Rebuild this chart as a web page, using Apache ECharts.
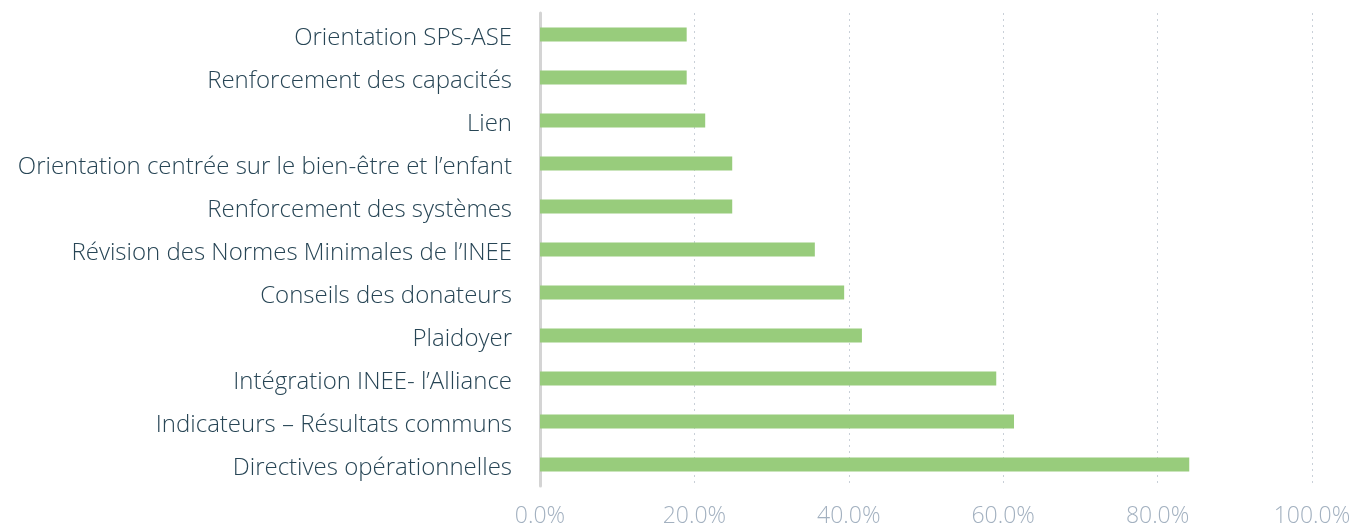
<!DOCTYPE html>
<html>
<head>
<meta charset="utf-8">
<script src="https://cdn.jsdelivr.net/npm/echarts@6/dist/echarts.min.js"></script>
<style>
  html, body { margin: 0; padding: 0; background: #fff; }
  #chart { width: 1358px; height: 528px; }
</style>
</head>
<body>
<div id="chart"></div>
<script>
// categories listed bottom -> top (category axis starts at the bottom)
var categories = [
  'Directives opérationnelles',
  'Indicateurs – Résultats communs',
  'Intégration INEE- l’Alliance',
  'Plaidoyer',
  'Conseils des donateurs',
  'Révision des Normes Minimales de l’INEE',
  'Renforcement des systèmes',
  'Orientation centrée sur le bien-être et l’enfant',
  'Lien',
  'Renforcement des capacités',
  'Orientation SPS-ASE'
];
var values = [84.1, 61.4, 59.1, 41.7, 39.4, 35.6, 24.9, 24.9, 21.4, 19.0, 19.0];
var tickValues = [0, 20, 40, 60, 80, 100];

var chart = echarts.init(document.getElementById('chart'));
var option = {
  animation: false,
  grid: { left: 540, right: 46, top: 13, bottom: 40, containLabel: false },
  xAxis: {
    type: 'value',
    min: 0,
    max: 100,
    interval: 20,
    axisLine: { show: false },
    axisTick: { show: false },
    axisLabel: {
      color: '#a3b1c0',
      fontFamily: 'Open Sans',
      fontWeight: 300,
      fontSize: 23,
      margin: 19,
      formatter: function (v) { return tickValues.indexOf(v) >= 0 ? v.toFixed(1) + '%' : ''; }
    },
    splitLine: { show: true, lineStyle: { color: '#c9d0d8', type: [2, 4], width: 1 } }
  },
  yAxis: {
    type: 'category',
    data: categories,
    axisLine: { show: true, lineStyle: { color: '#d4d4d4', width: 3 } },
    axisTick: { show: false },
    axisLabel: {
      margin: 28,
      formatter: function (v) { return '{l|' + v + '}'; },
      rich: {
        l: {
          color: '#274555',
          fontFamily: 'Open Sans',
          fontWeight: 300,
          fontSize: 24,
          padding: [8, 0, 0, 0]
        }
      }
    }
  },
  series: [{
    type: 'bar',
    data: values,
    barWidth: 14,
    itemStyle: { color: '#98cc7c' }
  }]
};
chart.setOption(option);
</script>
</body>
</html>
